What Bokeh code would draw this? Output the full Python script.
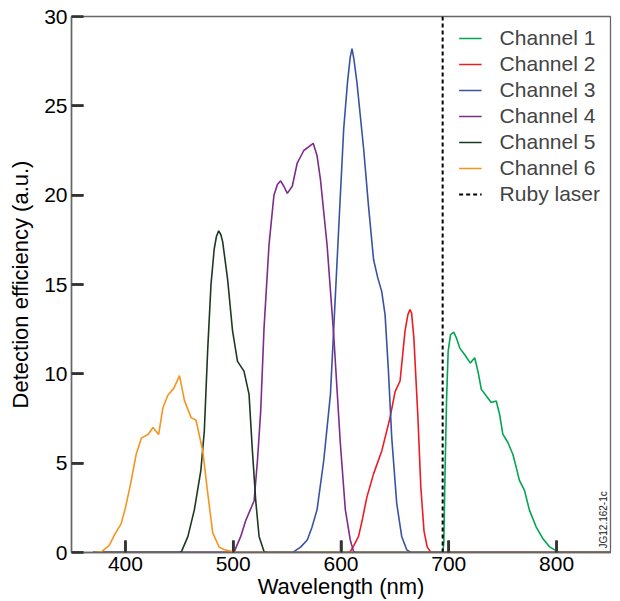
import math
from bokeh.plotting import figure
from bokeh.models import Legend, LegendItem, Label, Range1d
from bokeh.embed import file_html
from bokeh.resources import INLINE

# ---- data (wavelength in nm, detection efficiency in a.u.) ----
ch1_x = [370, 694.5, 695.4, 696.3, 697.9, 699.4, 701.6, 704.6, 707.1, 710.2, 714.8, 720.0, 724.0,
         727.0, 730.2, 734.8, 739.4, 744.0, 747.1, 750.1, 754.7, 759.4, 762.5, 765.5, 770.2,
         774.8, 781.0, 787.0, 793.2, 800.9, 805, 850]
ch1_y = [0, 0, 0.6, 3.85, 8.5, 11.26, 12.2, 12.33, 12.0, 11.44, 11.07, 10.6, 10.9,
         10.15, 9.13, 8.76, 8.4, 8.48, 7.74, 6.63, 6.17, 5.5, 4.78, 4.04, 3.48,
         2.37, 1.44, 0.8, 0.33, 0.05, 0, 0]

ch2_x = [370, 607, 608.6, 612, 616.3, 620, 624, 630.2, 637.9, 645.5, 650.2, 654.8, 659.4, 662,
         664, 665.5, 667.6, 671.4, 674, 677, 680, 683.5, 850]
ch2_y = [0, 0, 0.05, 0.4, 0.9, 1.9, 3.1, 4.4, 5.7, 7.55, 9.0, 9.6, 12.4, 13.3,
         13.6, 13.4, 12.0, 7.5, 3.7, 1.2, 0.3, 0, 0]

ch3_x = [370, 555, 556.3, 562.5, 568.7, 573, 577.8, 584, 590.2, 594.8, 599.4, 602.5, 606, 608.5,
         610.2, 612, 614.8, 621, 625.5, 630.2, 634, 637.8, 640.9, 644, 647.1, 651.7, 656.3,
         661, 665, 850]
ch3_y = [0, 0, 0.05, 0.3, 0.7, 1.4, 2.4, 5.15, 8.85, 14.4, 20.0, 23.7, 26.3, 27.7,
         28.2, 27.6, 26.3, 22.6, 19.4, 16.4, 15.4, 14.6, 13.3, 10.15, 6.4, 2.74, 0.9,
         0.15, 0, 0]

ch4_x = [370, 500, 501, 507, 511.7, 519.4, 522.5, 525.5, 528.6, 533.2, 537.8, 541, 544, 547,
         550.2, 554.8, 559.4, 565.5, 570, 574.2, 577.8, 580.9, 587.1, 593.2, 599.4, 604,
         608.6, 611.7, 614, 850]
ch4_y = [0, 0, 0.05, 0.9, 1.8, 2.9, 5.15, 7.9, 12.56, 17.2, 20.0, 20.6, 20.8, 20.5,
         20.1, 20.5, 21.8, 22.5, 22.7, 22.9, 22.2, 20.9, 17.2, 12.2, 6.1, 2.4,
         0.7, 0.05, 0, 0]

ch5_x = [370, 450, 452, 458, 464, 470, 473.2, 476.3, 479.4, 482.4, 484.5, 486.5, 488.5, 490.2,
         494.8, 499.4, 504, 510, 514.7, 517.8, 520.9, 524, 528.6, 531, 850]
ch5_y = [0, 0, 0.05, 0.9, 2.4, 4.6, 6.8, 11.3, 15.0, 17.0, 17.7, 18.0, 17.8, 17.4,
         15.3, 12.4, 10.7, 10.15, 8.85, 5.7, 2.9, 0.9, 0.05, 0, 0]

ch6_x = [370, 378, 385, 390, 396, 400, 405, 410, 414.8, 421, 425.6, 430.8, 434.8, 439.4,
         445, 450.2, 454.8, 461, 465.5, 471.7, 476, 481, 487, 492, 499.4, 504, 850]
ch6_y = [0, 0.05, 0.4, 1.0, 1.6, 2.5, 3.9, 5.5, 6.4, 6.6, 7.0, 6.6, 8.1, 8.8,
         9.2, 9.9, 8.5, 7.55, 7.4, 5.7, 3.5, 1.1, 0.3, 0.15, 0.05, 0, 0]

ruby_x = [694.3, 694.3]
ruby_y = [0, 30]

names = ["Channel 1", "Channel 2", "Channel 3", "Channel 4", "Channel 5", "Channel 6"]
colors = ["#00a651", "#ed1c24", "#3953a4", "#7f2b8c", "#1b3a1f", "#f7941d"]
series = [(ch1_x, ch1_y), (ch2_x, ch2_y), (ch3_x, ch3_y),
          (ch4_x, ch4_y), (ch5_x, ch5_y), (ch6_x, ch6_y)]

x_ticks = [400, 500, 600, 700, 800]
y_ticks = [0, 5, 10, 15, 20, 25, 30]

X_MIN, X_MAX = 350, 850
Y_MIN, Y_MAX = 0, 30

FONT = "Liberation Sans"

W, H = 620, 601
BORDER_L, BORDER_R, BORDER_T = 71, 10, 16
BORDER_B_EST = 49            # space taken by the bottom axis (tick labels + title)
TICK_PX = 12                 # inward tick length in pixels

p = figure(width=W, height=H, x_range=Range1d(X_MIN, X_MAX), y_range=Range1d(Y_MIN, Y_MAX),
           output_backend="svg", toolbar_location=None,
           min_border_left=BORDER_L, min_border_right=BORDER_R,
           min_border_top=BORDER_T, min_border_bottom=10)

p.xgrid.visible = False
p.ygrid.visible = False
p.outline_line_color = "#666666"
p.outline_line_width = 1.3
p.background_fill_color = "white"
p.border_fill_color = "white"

p.xaxis.ticker = x_ticks
p.yaxis.ticker = y_ticks
for ax in (p.xaxis, p.yaxis):
    ax.major_tick_in = TICK_PX
    ax.major_tick_out = 0
    ax.major_tick_line_color = "#333333"
    ax.major_tick_line_width = 2.5
    ax.minor_tick_in = 0
    ax.minor_tick_out = 0
    ax.axis_line_color = "#666666"
    ax.axis_line_width = 1.5
    ax.major_label_text_font = FONT
    ax.major_label_text_font_size = "21px"
    ax.major_label_text_color = "black"
    ax.major_label_standoff = 4
    ax.axis_label_text_font = FONT
    ax.axis_label_text_font_style = "normal"
    ax.axis_label_text_color = "black"
    ax.axis_label_text_font_size = "22px"

p.xaxis.axis_label = "Wavelength (nm)"
p.xaxis.axis_label_standoff = 0
p.yaxis.axis_label = "Detection efficiency (a.u.)"
p.yaxis.axis_label_standoff = 8

# inward tick marks at the tick positions, length converted from pixels to data units
frame_w = W - BORDER_L - BORDER_R
frame_h = H - BORDER_T - BORDER_B_EST
tick_dy = TICK_PX * (Y_MAX - Y_MIN) / frame_h
tick_dx = TICK_PX * (X_MAX - X_MIN) / frame_w
p.segment(x0=x_ticks, y0=[Y_MIN] * len(x_ticks), x1=x_ticks, y1=[Y_MIN + tick_dy] * len(x_ticks),
          line_color="#333333", line_width=2.5)
p.segment(x0=[X_MIN] * len(y_ticks), y0=y_ticks, x1=[X_MIN + tick_dx] * len(y_ticks), y1=y_ticks,
          line_color="#333333", line_width=2.5)

items = []
for (xs, ys), name, c in zip(series, names, colors):
    r = p.line(xs, ys, line_color=c, line_width=1.6)
    items.append(LegendItem(label=name, renderers=[r]))

rr = p.line(ruby_x, ruby_y, line_color="black", line_width=2, line_dash="4 3")
items.append(LegendItem(label="Ruby laser", renderers=[rr]))

legend = Legend(items=items, location="top_right", margin=0, padding=10,
                border_line_alpha=0, background_fill_alpha=0,
                label_text_font=FONT, label_text_font_size="21px",
                glyph_width=23, glyph_height=20, label_height=20,
                label_standoff=18, spacing=2)
p.add_layout(legend, "center")

tag = Label(x=X_MAX, y=Y_MIN, x_units="data", y_units="data", x_offset=-2, y_offset=4,
            text="JG12.162-1c", angle=math.pi / 2, text_baseline="bottom",
            text_align="left", text_font=FONT, text_font_size="10px",
            text_color="#222222")
p.add_layout(tag)

open("out.html", "w").write(file_html(p, INLINE))
